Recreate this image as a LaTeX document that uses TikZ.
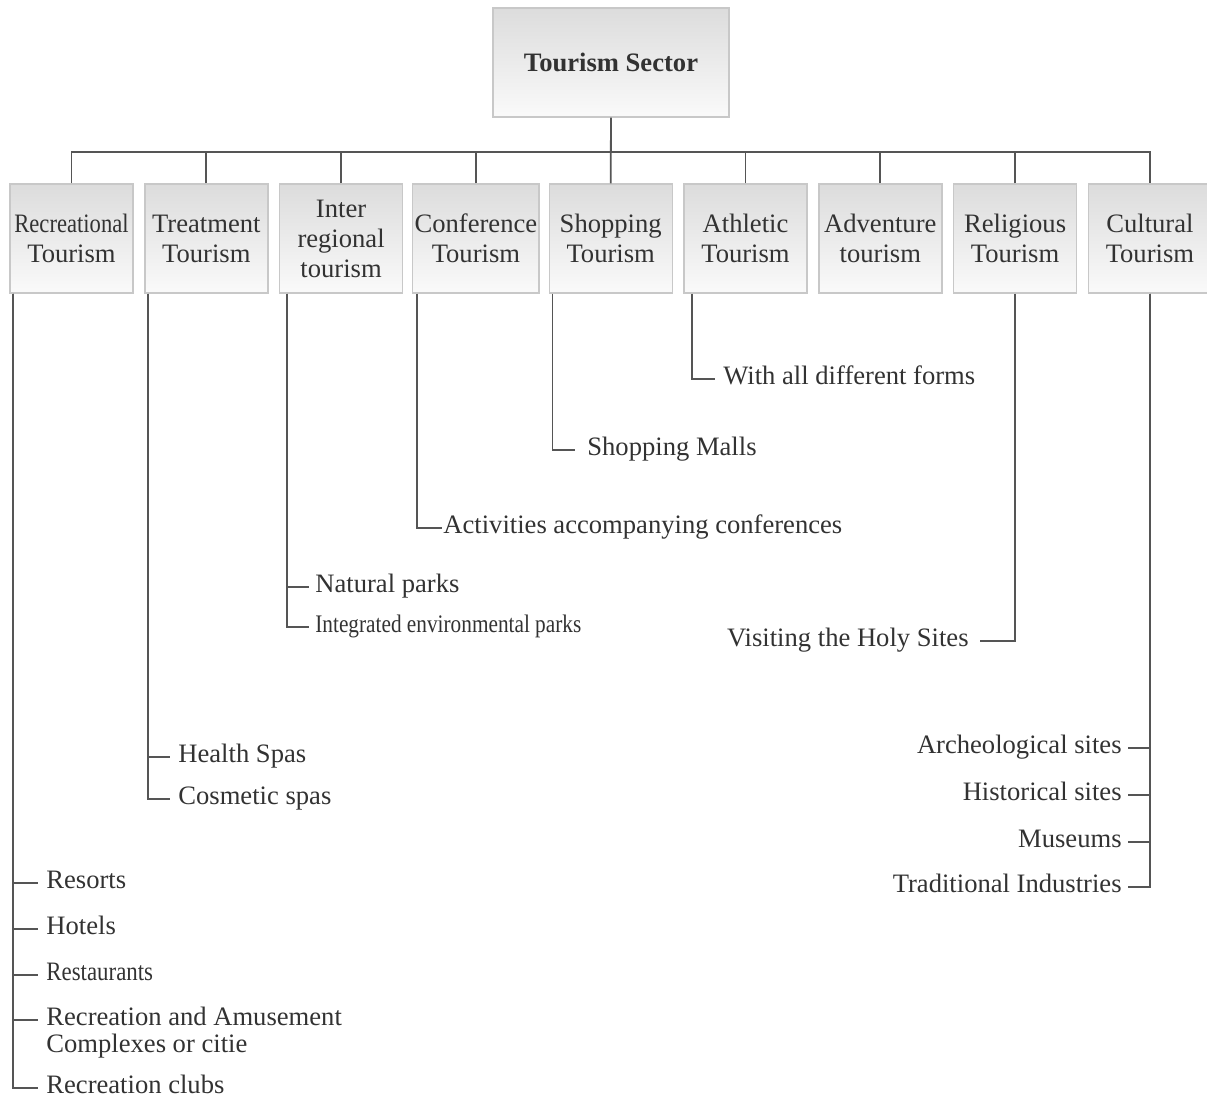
\documentclass[tikz,border=0pt]{standalone}
\usepackage{fontspec}
\setmainfont{Liberation Serif}
\usepackage{graphicx}
\usepackage{xcolor}
\definecolor{inkgray}{RGB}{50,50,50}
\definecolor{linegray}{RGB}{85,85,85}
\definecolor{boxedge}{RGB}{200,200,200}
\definecolor{boxtop}{RGB}{220,220,220}
\definecolor{boxbottom}{RGB}{250,250,250}
\usepackage{tikz}
\usetikzlibrary{calc}
\newcommand{\treefont}{\fontsize{13.3}{15}\selectfont}
\tikzset{
    common/.style={draw=boxedge, line width=0.7pt, rectangle, top color=boxtop, bottom color=boxbottom,
        text=inkgray, font=\treefont, align=center, inner sep=1pt},
    head/.style={common, minimum width=118pt, minimum height=54.5pt},
    cat/.style={common, minimum width=61.5pt, minimum height=54.5pt},
    leaf/.style={anchor=west, text=inkgray, font=\treefont, inner xsep=4pt, inner ysep=0pt,
        text height=0.7em, text depth=0.2em},
    leftleaf/.style={leaf, anchor=east},
    link/.style={draw=linegray, line width=0.9pt}
}
\begin{document}
\begin{tikzpicture}[x=0.5pt, y=-0.5pt]
      \useasboundingbox (0,0) rectangle (1207,1099);
      \clip (0,0) rectangle (1207,1099);

      \node[head] (top) at (611,62.5) {\textbf{Tourism Sector}};

      \path (71.5,238.5)
          node[cat] (rec) {\scalebox{0.85}[1]{Recreational}\\Tourism}
          +(134.8,0) node[cat] (treat) {Treatment\\Tourism}
          +(269.6,0) node[cat] (inter) {Inter\\regional\\tourism}
          +(404.4,0) node[cat] (conf) {Conference\\Tourism}
          +(539.2,0) node[cat] (shop) {Shopping\\Tourism}
          +(674,0) node[cat] (athl) {Athletic\\Tourism}
          +(808.8,0) node[cat] (adv) {Adventure\\tourism}
          +(943.6,0) node[cat] (relig) {Religious\\Tourism}
          +(1078.4,0) node[cat] (cult) {Cultural\\Tourism};

      % bus
      \draw[link] (top.south) -- (shop.north);
      \draw[link] (rec.north) -- ++(0,-31) -| (cult.north);
      \foreach \n in {treat,inter,conf,athl,adv,relig}
          \draw[link] (\n.north) -- ++(0,-31);

      \coordinate (rec-foot) at ([xshift=2pt]rec.south west);
      \coordinate (treat-foot) at ([xshift=2pt]treat.south west);
      \coordinate (inter-foot) at ([xshift=4pt]inter.south west);
      \coordinate (conf-foot) at ([xshift=2.5pt]conf.south west);
      \coordinate (shop-foot) at ([xshift=2pt]shop.south west);
      \coordinate (athl-foot) at ([xshift=4.5pt]athl.south west);

      \node[leaf] (forms) at (715,379) {With all different forms};
      \node[leaf, inner xsep=6pt] (malls) at (575,450) {Shopping Malls};
      \node[leaf, inner xsep=0.5pt] (activities) at (442,528) {Activities accompanying conferences};
      \node[leaf, inner xsep=3pt] (natural) at (309,587) {Natural parks};
      \node[leaf, inner xsep=3pt] (integrated) at (309,627) {\scalebox{0.80}[0.95]{Integrated environmental parks}};
      \node[leftleaf, inner xsep=5.5pt] (holy) at (980,641) {Visiting the Holy Sites};
      \node[leaf] (health) at (170,757) {Health Spas};
      \node[leaf] (cosmetic) at (170,799) {Cosmetic spas};
      \node[leftleaf, inner xsep=3pt] (archeo) at (1128,748) {Archeological sites};
      \node[leftleaf, inner xsep=3pt] (historic) at (1128,795) {Historical sites};
      \node[leftleaf, inner xsep=3pt] (museums) at (1128,842) {Museums};
      \node[leftleaf, inner xsep=3pt] (industries) at (1128,887) {Traditional Industries};
      \node[leaf] (resorts) at (38,883) {Resorts};
      \node[leaf] (hotels) at (38,929) {Hotels};
      \node[leaf] (restaurants) at (38,975) {\scalebox{0.86}[1]{Restaurants}};
      \node[leaf] (amuse) at (38,1020) {Recreation and Amusement};
      \node[leaf, anchor=north west, yshift=-4.5pt] (amuse-2) at (amuse.south west) {Complexes or citie};
      \node[leaf] (clubs) at (38,1088) {Recreation clubs};

      \draw[link] (athl-foot) |- (forms.west);
      \draw[link] (shop-foot) |- (malls.west);
      \draw[link] (conf-foot) |- (activities.west);
      \draw[link] (inter-foot) |- (natural.west);
      \draw[link] (inter-foot) |- (integrated.west);
      \draw[link] (relig.south) |- (holy.east);
      \draw[link] (treat-foot) |- (health.west);
      \draw[link] (treat-foot) |- (cosmetic.west);
      \foreach \n in {archeo,historic,museums,industries}
          \draw[link] (cult.south) |- (\n.east);
      \foreach \n in {resorts,hotels,restaurants,amuse,clubs}
          \draw[link] (rec-foot) |- (\n.west);
    \end{tikzpicture}
\end{document}
